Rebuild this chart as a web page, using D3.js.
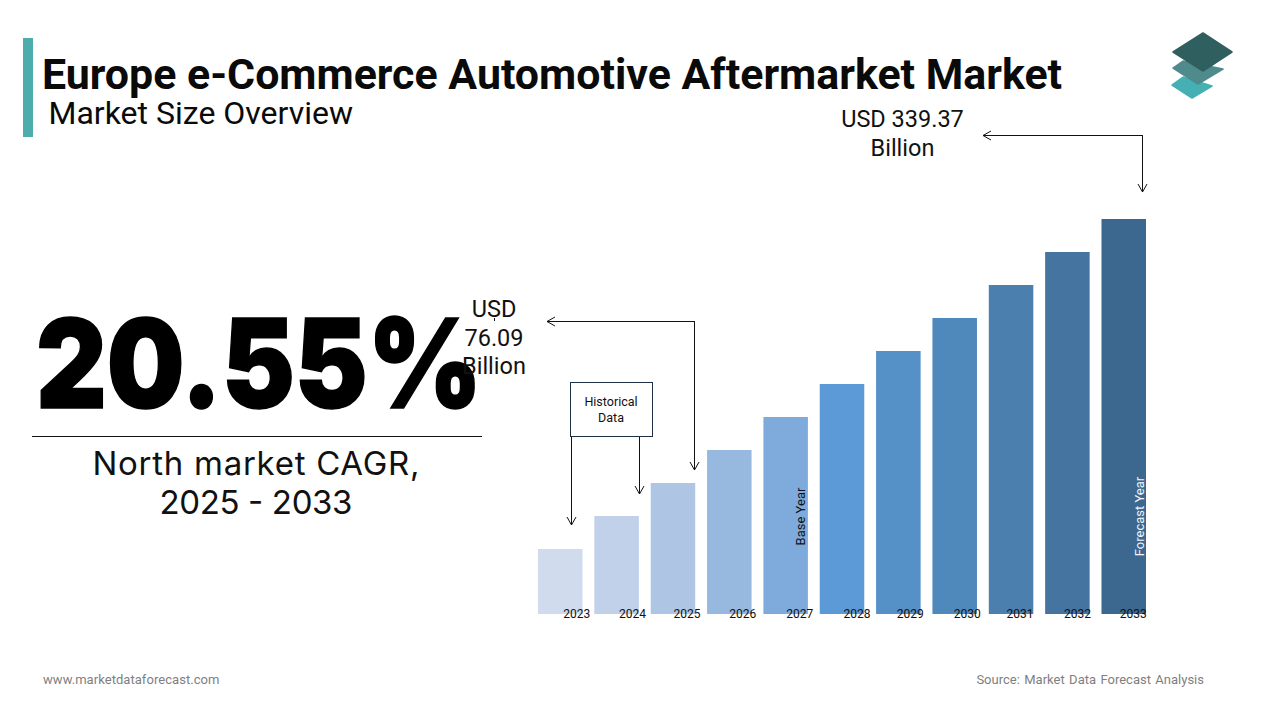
<!DOCTYPE html>
<html>
<head>
<meta charset="utf-8">
<script src="https://cdn.jsdelivr.net/npm/d3@7"></script>
<style>
  html, body { margin: 0; padding: 0; background: #fff; }
  svg { display: block; }
  text { font-family: Roboto, sans-serif; }
</style>
</head>
<body>
<div id="chart"></div>
<script>
// values (bar heights, the chart has no visible value axis)
const years = ["2023", "2024", "2025", "2026", "2027", "2028", "2029", "2030", "2031", "2032", "2033"];
const barValues = [65, 98, 131, 164, 197, 230, 263, 296, 329, 362, 395];
const barColors = ["#d0dcee", "#c0d1e9", "#aec6e4", "#98b9df", "#7fabdc", "#5b9ad6", "#5590c7", "#4f88bb", "#4a7fae", "#44749f", "#3c6890"];

// year labels sit off-centre in the original
const labelShift = [16.5, 16, 14, 13.5, 14, 15, 12, 12.5, 9, 10, 9.5];

const svg = d3.select("#chart")
    .append("svg")
        .attr("width", 1280)
        .attr("height", 720);

// header
svg.append("rect")
    .attr("x", 23).attr("y", 38)
    .attr("width", 10).attr("height", 99)
    .attr("fill", "#4dacac");

svg.append("text")
    .attr("x", 42).attr("y", 89)
    .attr("font-size", 42.9)
    .attr("font-weight", 700)
    .attr("fill", "#0a0a0a")
    .text("Europe e-Commerce Automotive Aftermarket Market");

svg.append("text")
    .attr("x", 48.5).attr("y", 124)
    .attr("font-size", 32)
    .attr("fill", "#0a0a0a")
    .text("Market Size Overview");

// logo, three stacked diamonds
const logo = [
    {points: "1172,85 1183,77 1212,86 1192,98", fill: "#45b0b3"},
    {points: "1173,68 1183,61 1223,69 1198,84", fill: "#4f8a8c"},
    {points: "1173,52 1203,33 1232,52 1203,71", fill: "#2f5f5f"}
];
svg.append("g").selectAll("polygon")
    .data(logo)
    .join("polygon")
        .attr("points", d => d.points)
        .attr("fill", d => d.fill)
        .attr("stroke", d => d.fill)
        .attr("stroke-width", 1.5)
        .attr("stroke-linejoin", "round");

// left big number
svg.append("text")
    .attr("x", 36).attr("y", 408)
    .style("font-family", "Inter, sans-serif")
    .attr("font-size", 124)
    .attr("font-weight", 900)
    .attr("textLength", 446)
    .attr("lengthAdjust", "spacingAndGlyphs")
    .attr("fill", "#000")
    .attr("stroke", "#000")
    .attr("stroke-width", 1.5)
    .text("20.55%");

svg.append("line")
    .attr("x1", 32).attr("x2", 482)
    .attr("y1", 436.5).attr("y2", 436.5)
    .attr("stroke", "#111");

const cagrLines = ["North market CAGR,", "2025 - 2033"];
const cagrWidths = [327, 193];
svg.selectAll(".cagr")
    .data(cagrLines)
    .join("text")
        .attr("class", "cagr")
        .attr("x", 256)
        .attr("y", (d, i) => 475 + i * 39)
        .attr("text-anchor", "middle")
        .style("font-family", "Inter, sans-serif")
        .attr("font-size", 33)
        .attr("textLength", (d, i) => cagrWidths[i])
        .attr("fill", "#111")
        .text(d => d);

// bars
const x = d3.scaleBand()
    .domain(years)
    .range([538, 1146])
    .paddingInner(0.21);

const y = d3.scaleLinear()
    .domain([0, 395])
    .range([614, 219]);

svg.append("g")
    .selectAll("rect")
    .data(years)
    .join("rect")
        .attr("x", d => x(d))
        .attr("y", (d, i) => y(barValues[i]))
        .attr("width", x.bandwidth())
        .attr("height", (d, i) => y(0) - y(barValues[i]))
        .attr("fill", (d, i) => barColors[i]);

// year axis, no line or ticks
const xAxis = svg.append("g")
    .attr("transform", "translate(0,614)")
    .call(d3.axisBottom(x).tickSize(0).tickPadding(0));
xAxis.select(".domain").remove();
xAxis.selectAll("text")
    .attr("dx", (d, i) => labelShift[i])
    .attr("y", -5)
    .attr("font-size", 12)
    .style("font-family", "Roboto, sans-serif")
    .attr("fill", "#111");

// rotated labels inside the bars
function sideLabel(txt, px, py, colour) {
    svg.append("text")
        .attr("transform", `translate(${px},${py}) rotate(-90)`)
        .attr("text-anchor", "middle")
        .attr("font-size", 13)
        .attr("fill", colour)
        .text(txt);
}
sideLabel("Base Year", 805, 516.5, "#111");
sideLabel("Forecast Year", 1144, 516.5, "#f2f5f8");

// arrows
function arrowPath(pts) {
    const p = d3.path();
    pts.forEach((c, i) => i ? p.lineTo(c[0], c[1]) : p.moveTo(c[0], c[1]));
    const [ax, ay] = pts[pts.length - 1];
    const [bx, by] = pts[pts.length - 2];
    const len = Math.hypot(bx - ax, by - ay);
    const ux = (bx - ax) / len, uy = (by - ay) / len;
    p.moveTo(ax + ux * 8 - uy * 4.5, ay + uy * 8 + ux * 4.5);
    p.lineTo(ax, ay);
    p.lineTo(ax + ux * 8 + uy * 4.5, ay + uy * 8 - ux * 4.5);
    return p.toString();
}

const arrows = [
    [[1142.5, 192], [1142.5, 135.5], [983, 135.5]],
    [[694.5, 470], [694.5, 321.5], [547, 321.5]],
    [[571.5, 436], [571.5, 525]],
    [[639.5, 436], [639.5, 494]]
];
svg.append("g").selectAll("path")
    .data(arrows)
    .join("path")
        .attr("d", d => {
            // the first two arrows have a head at both ends
            const one = arrowPath(d);
            return d.length > 2 ? one + arrowPath(d.slice().reverse()) : one;
        })
        .attr("fill", "none")
        .attr("stroke", "#111")
        .attr("stroke-width", 1);

// historical data box
svg.append("rect")
    .attr("x", 570.5).attr("y", 382.5)
    .attr("width", 82).attr("height", 54)
    .attr("fill", "#fff")
    .attr("stroke", "#1f2f46");

svg.selectAll(".hist")
    .data(["Historical", "Data"])
    .join("text")
        .attr("class", "hist")
        .attr("x", 611)
        .attr("y", (d, i) => 406 + i * 16)
        .attr("text-anchor", "middle")
        .attr("font-size", 12.5)
        .attr("fill", "#111")
        .text(d => d);

// value callouts
svg.selectAll(".topValue")
    .data(["USD 339.37", "Billion"])
    .join("text")
        .attr("class", "topValue")
        .attr("x", 902.5)
        .attr("y", (d, i) => 127 + i * 29)
        .attr("text-anchor", "middle")
        .attr("font-size", 23.5)
        .attr("fill", "#111")
        .text(d => d);

svg.selectAll(".baseValue")
    .data(["USD", "76.09", "Billion"])
    .join("text")
        .attr("class", "baseValue")
        .attr("x", 494)
        .attr("y", (d, i) => 317 + i * 28.5)
        .attr("text-anchor", "middle")
        .attr("font-size", 23.5)
        .attr("fill", "#111")
        .text(d => d);

svg.append("line")
    .attr("x1", 494.5).attr("x2", 494.5)
    .attr("y1", 318).attr("y2", 321)
    .attr("stroke", "#111");

// footer
svg.append("text")
    .attr("x", 43).attr("y", 684)
    .attr("font-size", 13)
    .attr("letter-spacing", 0.05)
    .attr("fill", "#7f7f7f")
    .text("www.marketdataforecast.com");

svg.append("text")
    .attr("x", 1204).attr("y", 684)
    .attr("text-anchor", "end")
    .attr("font-size", 13)
    .attr("letter-spacing", 0)
    .attr("word-spacing", 1.2)
    .attr("fill", "#7f7f7f")
    .text("Source: Market Data Forecast Analysis");
</script>
</body>
</html>
